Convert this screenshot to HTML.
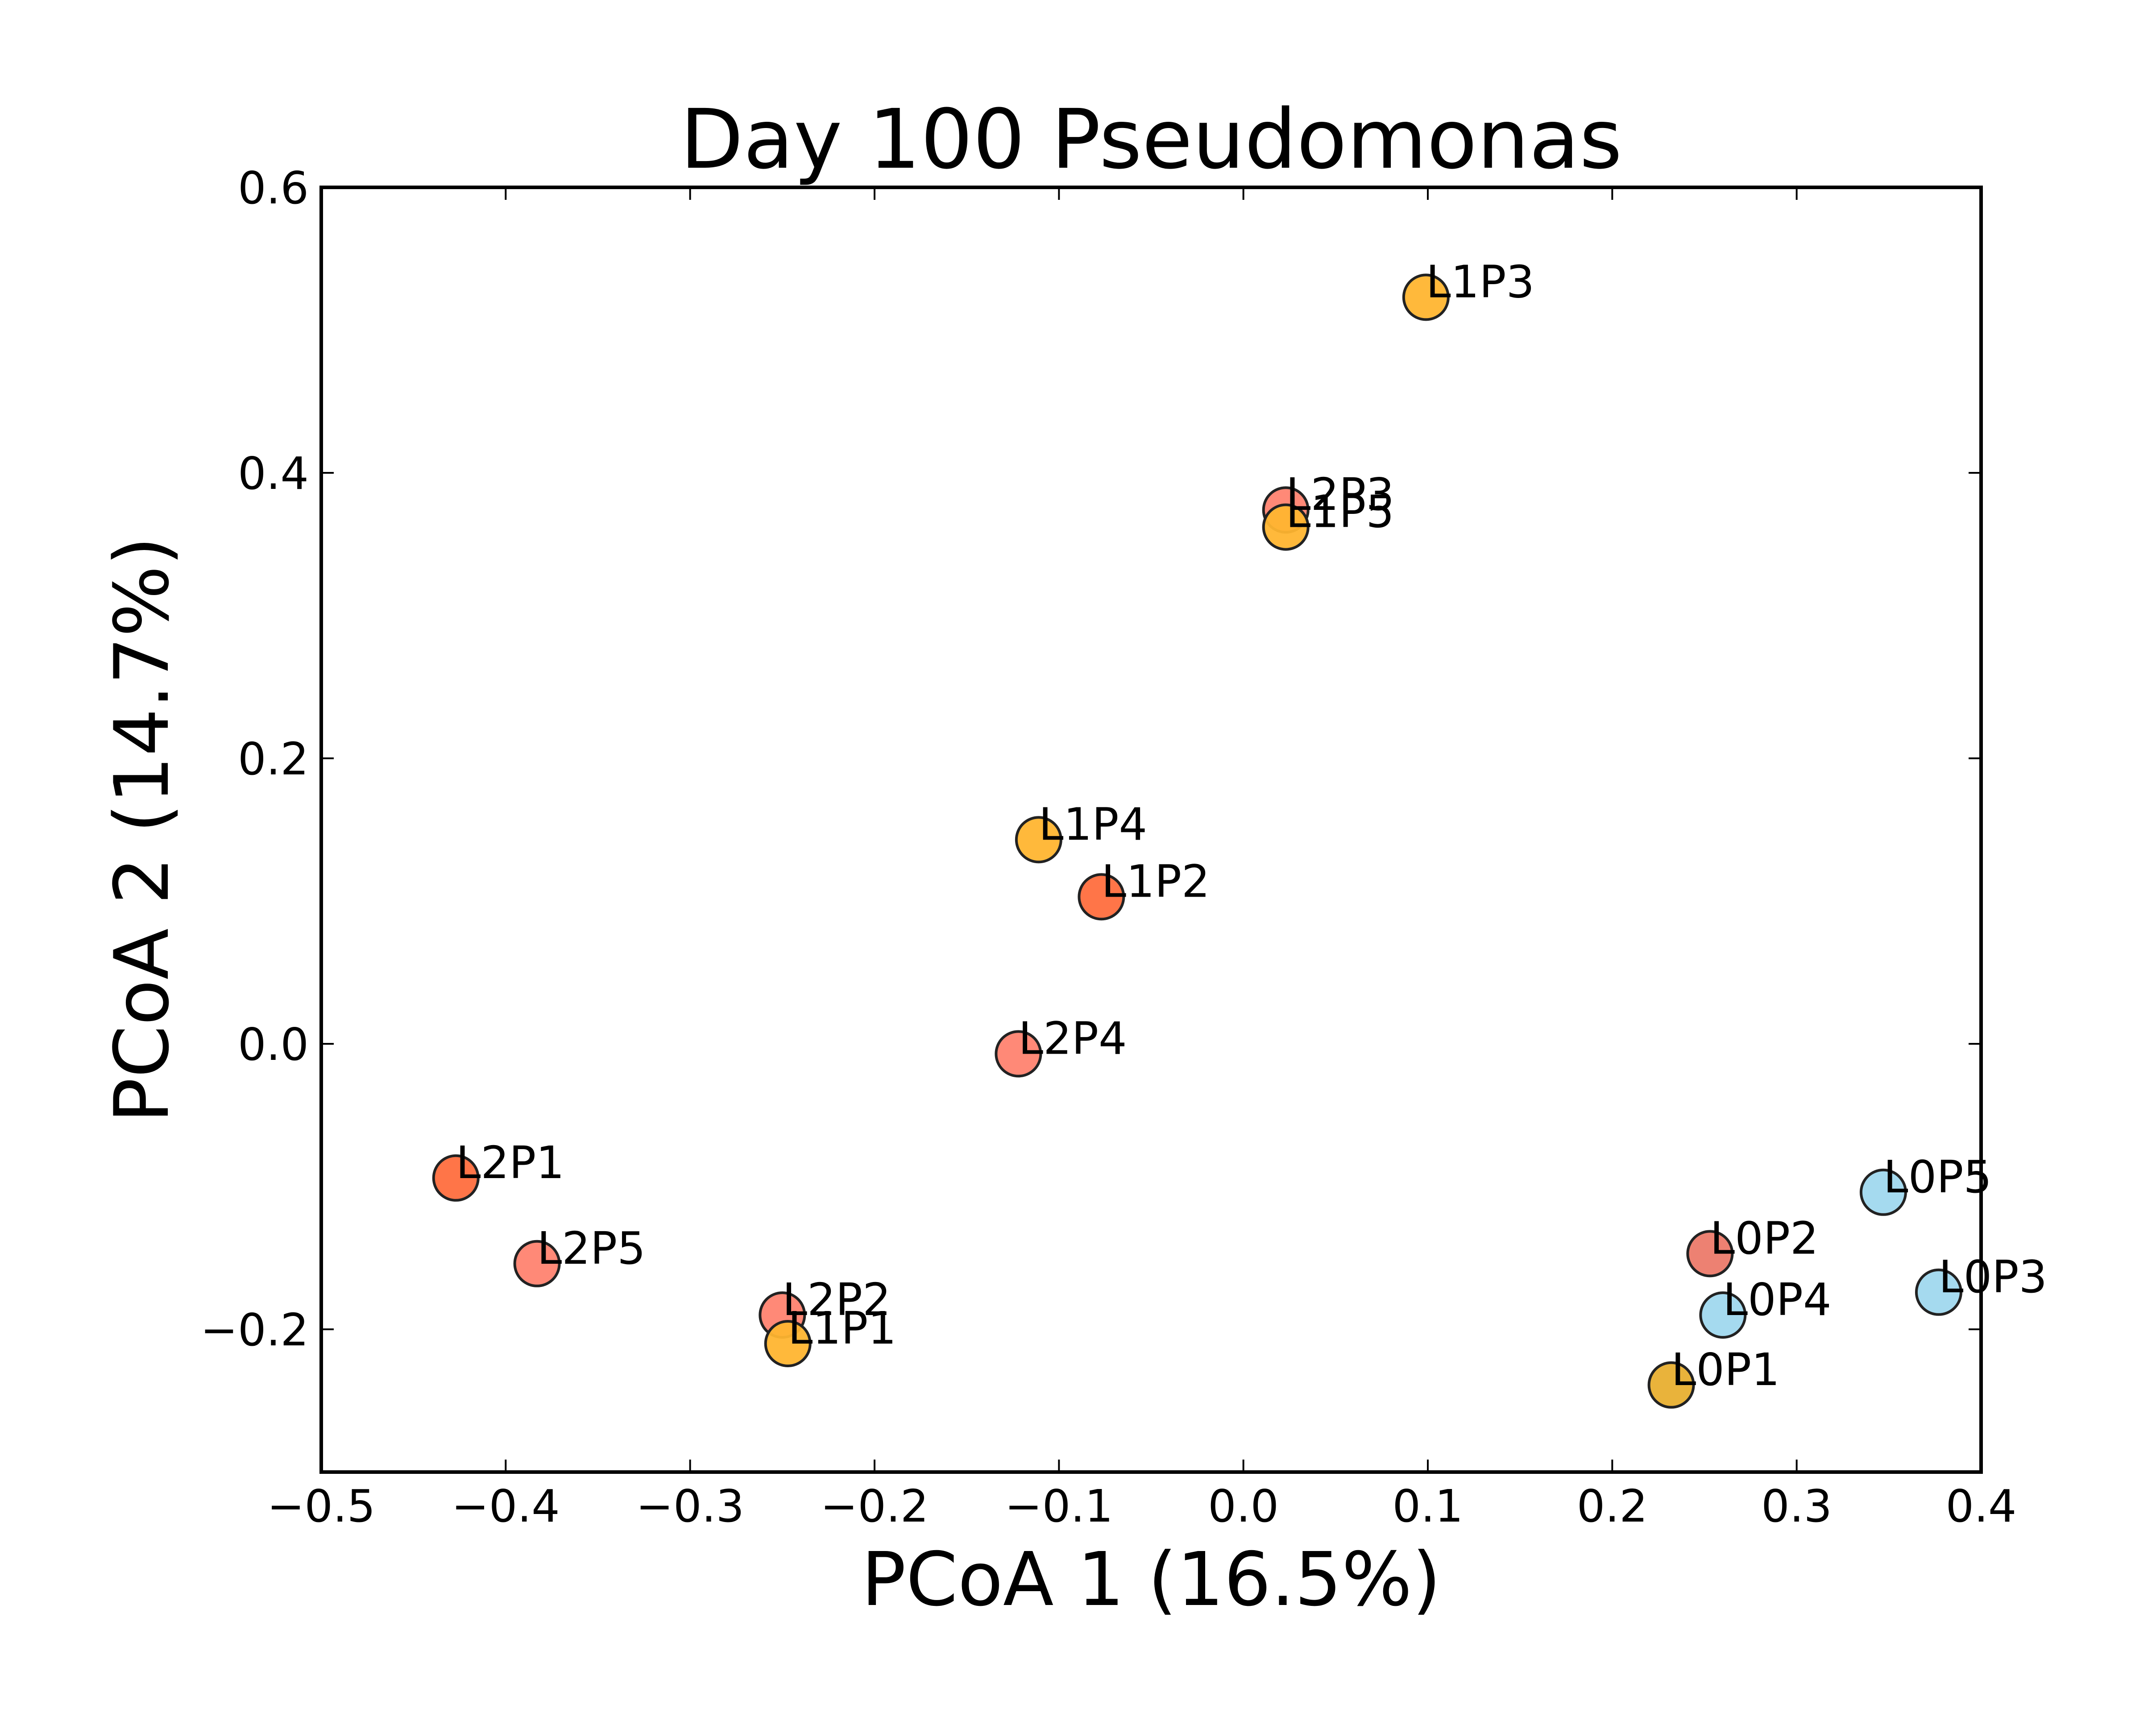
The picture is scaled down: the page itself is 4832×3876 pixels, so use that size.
<!DOCTYPE html>
<html><head><meta charset="utf-8"><style>
html,body{margin:0;padding:0;background:#fff;}
svg{display:block;font-family:"DejaVu Sans","Liberation Sans",sans-serif;}
</style></head><body>
<svg id="chart" width="4832" height="3876" viewBox="0 0 4832 3876" xmlns="http://www.w3.org/2000/svg">
<rect width="4832" height="3876" fill="#fff"/>
<text x="2580" y="376" font-size="184" text-anchor="middle">Day 100 Pseudomonas</text>
<text x="2580" y="3598" font-size="166" text-anchor="middle">PCoA 1 (16.5%)</text>
<text transform="translate(376,1860) rotate(-90)" font-size="168" text-anchor="middle">PCoA 2 (14.7%)</text>
<g id="ticks"></g>
<g id="points"></g>
<rect x="720" y="420" width="3720" height="2880" fill="none" stroke="#000" stroke-width="8"/>
</svg>
<script>
const labels = ["L1P3","L2P3","L1P5","L1P4","L1P2","L2P4","L2P1","L2P5","L2P2","L1P1","L0P5","L0P2","L0P3","L0P4","L0P1"];
const xValues = [0.099,0.023,0.023,-0.111,-0.077,-0.122,-0.427,-0.383,-0.250,-0.247,0.347,0.253,0.377,0.260,0.232];
const yValues = [0.523,0.374,0.362,0.143,0.103,-0.007,-0.094,-0.154,-0.190,-0.210,-0.104,-0.147,-0.174,-0.190,-0.239];
const colors = ["#FFB530","#FF8370","#FFB530","#FFB530","#FF6E3E","#FF8370","#FF6E3E","#FF8370","#FF8370","#FFB530","#A0D8EE","#EC7A6A","#A0D8EE","#A0D8EE","#E8AF30"];
const xTicks = [-0.5,-0.4,-0.3,-0.2,-0.1,0.0,0.1,0.2,0.3,0.4];
const xTickLabels = ["\u22120.5","\u22120.4","\u22120.3","\u22120.2","\u22120.1","0.0","0.1","0.2","0.3","0.4"];
const yTicks = [-0.2,0.0,0.2,0.4,0.6];
const yTickLabels = ["\u22120.2","0.0","0.2","0.4","0.6"];

const X0=720,X1=4440,Y0=420,Y1=3300;
const xMin=-0.5,xMax=0.4,yMin=-0.3,yMax=0.6;
function sx(v){return X0+(v-xMin)/(xMax-xMin)*(X1-X0);}
function sy(v){return Y1-(v-yMin)/(yMax-yMin)*(Y1-Y0);}
const NS="http://www.w3.org/2000/svg";
const tg=document.getElementById('ticks');
function el(t,a,p){const e=document.createElementNS(NS,t);for(const k in a)e.setAttribute(k,a[k]);p.appendChild(e);return e;}
xTicks.forEach((v,i)=>{
  const x=sx(v);
  const t1=el('line',{x1:x,y1:Y1,x2:x,y2:Y1-28,stroke:'#000','stroke-width':4},tg);
  
  
  const t2=el('line',{x1:x,y1:Y0,x2:x,y2:Y0+28,stroke:'#000','stroke-width':4},tg);
  
  
  const tx=el('text',{x:x,y:3411,'font-size':100,'text-anchor':'middle'},tg);
  tx.textContent=xTickLabels[i];
  
  
});
yTicks.forEach((v,i)=>{
  const y=sy(v);
  const t1=el('line',{x1:X0,y1:y,x2:X0+28,y2:y,stroke:'#000','stroke-width':4},tg);
  
  
  const t2=el('line',{x1:X1,y1:y,x2:X1-28,y2:y,stroke:'#000','stroke-width':4},tg);
  
  
  const tx=el('text',{x:X0-28,y:y+36,'font-size':100,'text-anchor':'end'},tg);
  tx.textContent=yTickLabels[i];
  
  
});
const pg=document.getElementById('points');
labels.forEach((lab,i)=>{
  const x=sx(xValues[i]),y=sy(yValues[i]);
  const c=el('circle',{cx:x,cy:y,r:50,fill:colors[i],stroke:'#222','stroke-width':6,'fill-opacity':0.95},pg);
  
  
});
labels.forEach((lab,i)=>{
  const x=sx(xValues[i]),y=sy(yValues[i]);
  const t=el('text',{x:x,y:y,'font-size':100},pg);
  t.textContent=lab;
  
  
});
</script>
</body></html>
